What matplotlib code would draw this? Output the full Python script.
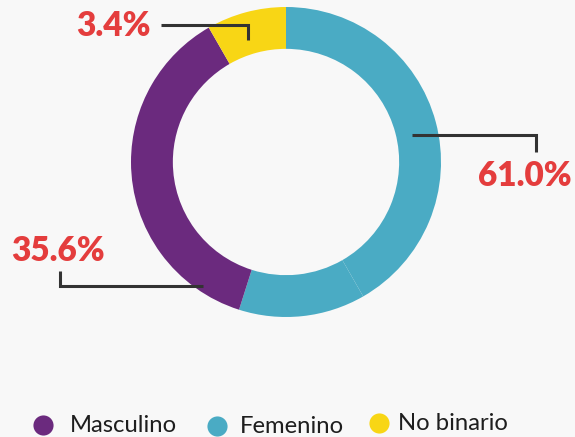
import matplotlib.pyplot as plt

# arc shares as drawn (each group is split into two wedges in the original)
fem_parts = [41.7, 13.2]
masc_parts = [20.1, 16.7]
nb_parts = [8.3]

categories = ["Masculino", "Femenino", "No binario"]
pct_labels = ["35.6%", "61.0%", "3.4%"]

cols = {
    "Masculino": "#6B2A7E",
    "Femenino": "#4AABC4",
    "No binario": "#F8D615",
}

plt.rcParams.update({
    "font.family": ["Lato", "DejaVu Sans"],
})

W, H = 575, 437
cx, cy, R = 286, 162, 155


def px(x, y):
    # figure pixel position -> data units around the donut centre
    return (x - cx) / R, (cy - y) / R


fig = plt.figure(figsize=(W / 100, H / 100), dpi=100, facecolor="#F8F8F8")
ax = fig.add_axes([0, 0, 1, 1])
ax.set_facecolor("#F8F8F8")

vals = fem_parts + masc_parts + nb_parts
colors = ([cols["Femenino"]] * len(fem_parts) + [cols["Masculino"]] * len(masc_parts)
          + [cols["No binario"]] * len(nb_parts))

ax.pie(
    vals,
    colors=colors,
    startangle=90,
    counterclock=False,
    radius=1,
    wedgeprops=dict(width=0.27, linewidth=0),
)

ax.set_xlim(-cx / R, (W - cx) / R)
ax.set_ylim(-(H - cy) / R, cy / R)
ax.set_aspect("equal")
ax.axis("off")

# leader lines + labels
leaders = {
    "3.4%": ([(161, 25), (248, 25), (248, 40)], (76, 36)),
    "61.0%": ([(412, 135), (536, 135), (536, 152)], (478, 186)),
    "35.6%": ([(203, 286), (60, 286), (60, 271)], (11, 261)),
}

for lab, (pts, (tx, ty)) in leaders.items():
    xs, ys = zip(*[px(*p) for p in pts])
    ax.plot(xs, ys, color="#333333", lw=2.2, solid_capstyle="butt",
            solid_joinstyle="miter")
    ax.text(*px(tx, ty), lab, ha="left", va="baseline", fontsize=24,
            fontweight="heavy", color="#E43D3D")

# legend
leg = {
    "Masculino": (42.5, 425, 70, 432),
    "Femenino": (217, 426, 240, 433),
    "No binario": (379, 423, 398, 430),
}

for c in categories:
    dx, dy, tx, ty = leg[c]
    ax.plot(*px(dx, dy), "o", ms=14.5, color=cols[c], mec="none")
    ax.text(*px(tx, ty), c, ha="left", va="baseline", fontsize=17.2,
            color="#1E1E1E")

fig.savefig("out.png", dpi=100, facecolor=fig.get_facecolor())
